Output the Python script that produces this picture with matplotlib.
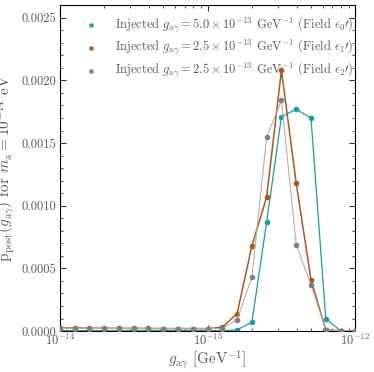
import numpy as np
import matplotlib
matplotlib.use('Agg')
import matplotlib.pyplot as plt
from matplotlib.ticker import FormatStrFormatter, MultipleLocator, LogLocator

plt.rcParams['font.family'] = 'serif'
plt.rcParams['font.serif'] = ['cmr10']
plt.rcParams['mathtext.fontset'] = 'cm'
plt.rcParams['axes.formatter.use_mathtext'] = True
plt.rcParams['axes.unicode_minus'] = False

# log10 of g_agamma grid [GeV^-1]
log_g = [-14.0, -13.9, -13.8, -13.7, -13.6, -13.5, -13.4, -13.3, -13.2, -13.1, -13.0,
         -12.9, -12.8, -12.7, -12.6, -12.5, -12.4, -12.3, -12.2, -12.1, -12.0]

p_field0 = [0.000003, 0.000003, 0.000003, 0.000003, 0.000003, 0.000003, 0.000003, 0.000003,
            0.000003, 0.000003, 0.000003, 0.000003, 0.00001, 0.00007, 0.00087, 0.00171,
            0.00177, 0.00170, 0.00010, 0.000002, 0.000001]
p_field1 = [0.000024, 0.000024, 0.000023, 0.000023, 0.000022, 0.000022, 0.000021, 0.00002,
            0.00002, 0.00002, 0.00002, 0.00003, 0.00014, 0.00068, 0.00107, 0.00208,
            0.00118, 0.00041, 0.00001, 0.000002, 0.000001]
p_field2 = [0.00002, 0.00002, 0.00002, 0.00002, 0.00002, 0.00002, 0.00002, 0.00002,
            0.00002, 0.00002, 0.00002, 0.00002, 0.00009, 0.00043, 0.00155, 0.00184,
            0.00069, 0.00037, 0.00001, 0.000002, 0.000001]

labels = [r'Injected $g_{\rm a\gamma} = 5.0 \times 10^{-13}$ GeV$^{-1}$ (Field $\epsilon_0\prime$)',
          r'Injected $g_{\rm a\gamma} = 2.5 \times 10^{-13}$ GeV$^{-1}$ (Field $\epsilon_1\prime$)',
          r'Injected $g_{\rm a\gamma} = 2.5 \times 10^{-13}$ GeV$^{-1}$ (Field $\epsilon_2\prime$)']

g = 10.0 ** np.array(log_g)
txt = '#5a5a5a'

fig = plt.figure(figsize=(3.74, 3.72), dpi=100)
ax = fig.add_axes([0.16, 0.11, 0.79, 0.876])

ax.plot(g, p_field0, color='#1a9e9e', lw=0.9, marker='o', ms=3, zorder=2)
ax.plot(g, p_field1, color='#a65a1e', lw=1.1, marker='o', ms=3, zorder=3)
ax.plot(g, p_field2, color='#b0b0b0', lw=0.8, marker='o', ms=3,
        mfc='#808080', mec='#808080', zorder=4)

# legend with dots only
h0 = ax.scatter([], [], s=5, color='#1a9e9e')
h1 = ax.scatter([], [], s=5, color='#a65a1e')
h2 = ax.scatter([], [], s=5, color='#808080')
leg = ax.legend([h0, h1, h2], labels, loc='upper left', bbox_to_anchor=(0.035, 0.995),
                frameon=False, fontsize=9, labelcolor=txt, handletextpad=0.9,
                borderaxespad=0.3, labelspacing=0.3)

ax.set_xscale('log')
ax.set_xlim(1e-14, 1e-12)
ax.set_ylim(0, 0.0026)
ax.yaxis.set_major_locator(MultipleLocator(0.0005))
ax.yaxis.set_minor_locator(MultipleLocator(0.0001))
ax.yaxis.set_major_formatter(FormatStrFormatter('%.4f'))
ax.xaxis.set_major_locator(LogLocator(base=10, numticks=5))
ax.xaxis.set_minor_locator(LogLocator(base=10, subs=np.arange(2, 10), numticks=20))
ax.tick_params(which='both', direction='in', top=True, right=True, labelsize=9,
               labelcolor=txt, color='#333333')
ax.tick_params(which='major', length=4)
ax.tick_params(which='minor', length=2)
ax.tick_params(axis='x', pad=1.5)
ax.tick_params(axis='y', pad=2.5)

ax.set_xlabel(r'$g_{\rm a\gamma}$ [GeV$^{-1}$]', fontsize=11, color=txt, labelpad=0)
ax.set_ylabel(r'$\rm p_{post}$$(g_{\rm a\gamma})$ for $m_{\rm a} = 10^{-14}$ eV', fontsize=11,
              color=txt, labelpad=3)

plt.savefig('out.png')
